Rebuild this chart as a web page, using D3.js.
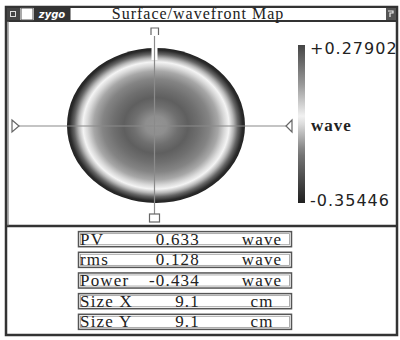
<!DOCTYPE html>
<html>
<head>
<meta charset="utf-8">
<script src="https://cdn.jsdelivr.net/npm/d3@7/dist/d3.min.js"></script>
<style>
  html, body { margin: 0; padding: 0; background: #fff; }
  svg { display: block; }
</style>
</head>
<body>
<div id="chart"></div>
<script>
// wavefront data
const titleText = 'Surface/wavefront Map';
const waveMax = 0.27902;
const waveMin = -0.35446;
const waveUnit = 'wave';
const sizeX = 9.1;
const sizeY = 9.1;

// radial profile of the map (fraction of pupil radius -> wave)
const profileR = [0, 0.12, 0.25, 0.36, 0.48, 0.6, 0.7, 0.77, 0.82, 0.87, 0.92, 0.97, 1.0];
const profileWave = [0.13, 0.14, 0.2, 0.23, 0.2, 0.16, 0.1, 0.03, -0.01, -0.08, -0.2, -0.33, -0.35];

// stats table
const statLabels = ['PV', 'rms', 'Power', 'Size X', 'Size Y'];
const statValues = ['0.633', '0.128', '-0.434', '9.1', '9.1'];
const statUnits = ['wave', 'wave', 'wave', 'cm', 'cm'];

const W = 400, H = 340;
const svg = d3.select('#chart').append('svg')
  .attr('width', W)
  .attr('height', H);

const defs = svg.append('defs');

// grey colour map: light near zero, dark at both ends
const color = d3.scaleLinear()
  .domain([waveMin, -0.15, -0.01, 0.12, waveMax])
  .range(['#202020', '#7a7a7a', '#f4f4f4', '#999999', '#454545']);

// window frame
svg.append('rect')
  .attr('x', 6).attr('y', 7)
  .attr('width', 391).attr('height', 328)
  .attr('fill', '#fff')
  .attr('stroke', '#333').attr('stroke-width', 2.5);

// title bar
const bar = svg.append('g');
bar.append('rect')
  .attr('x', 6).attr('y', 7).attr('width', 391).attr('height', 14)
  .attr('fill', '#fff').attr('stroke', '#333').attr('stroke-width', 2);
bar.append('rect')
  .attr('x', 7).attr('y', 8).attr('width', 13).attr('height', 12)
  .attr('fill', '#444');
bar.append('rect')
  .attr('x', 10.5).attr('y', 11.5).attr('width', 5).attr('height', 5)
  .attr('fill', 'none').attr('stroke', '#ddd').attr('stroke-width', 1);
bar.append('rect')
  .attr('x', 21).attr('y', 8).attr('width', 12).attr('height', 12)
  .attr('fill', '#fff').attr('stroke', '#555');
bar.append('rect')
  .attr('x', 34).attr('y', 8).attr('width', 36).attr('height', 12)
  .attr('fill', '#333');
bar.append('text')
  .attr('x', 52).attr('y', 18)
  .attr('text-anchor', 'middle')
  .attr('font-family', 'DejaVu Sans, sans-serif')
  .attr('font-size', 10).attr('font-weight', 'bold').attr('font-style', 'italic')
  .attr('fill', '#fff')
  .text('zygo');
bar.append('line')
  .attr('x1', 70).attr('x2', 70).attr('y1', 8).attr('y2', 20)
  .attr('stroke', '#333');
bar.append('rect')
  .attr('x', 386).attr('y', 8).attr('width', 10).attr('height', 12)
  .attr('fill', '#555');
bar.append('path')
  .attr('d', 'M388,11 L393,11 L393,13 L390,13 L390,17')
  .attr('fill', 'none').attr('stroke', '#eee').attr('stroke-width', 1.2);
bar.append('text')
  .attr('x', 198).attr('y', 19)
  .attr('text-anchor', 'middle')
  .attr('font-family', 'Liberation Serif, serif')
  .attr('font-size', 16).attr('letter-spacing', 1)
  .attr('fill', '#222')
  .text(titleText);

// plot panel / stats panel divider
svg.append('line')
  .attr('x1', 6).attr('x2', 397).attr('y1', 226).attr('y2', 226)
  .attr('stroke', '#333').attr('stroke-width', 2.5);
svg.append('line')
  .attr('x1', 8).attr('x2', 8).attr('y1', 21).attr('y2', 226)
  .attr('stroke', '#666').attr('stroke-width', 1);

// pupil scales (cm)
const x = d3.scaleLinear().domain([-sizeX / 2, sizeX / 2]).range([67, 245]);
const y = d3.scaleLinear().domain([-sizeY / 2, sizeY / 2]).range([203, 48]);

const grad = defs.append('radialGradient')
  .attr('id', 'pupil')
  .attr('cx', 0.5).attr('cy', 0.5).attr('r', 0.5);
grad.selectAll('stop')
  .data(profileR)
  .join('stop')
  .attr('offset', d => d)
  .attr('stop-color', (d, i) => color(profileWave[i]));

svg.append('ellipse')
  .attr('cx', x(0)).attr('cy', y(0))
  .attr('rx', x(sizeX / 2) - x(0))
  .attr('ry', y(0) - y(sizeY / 2))
  .attr('fill', 'url(#pupil)');

// crosshair
const cx = x(0) - 1.5, cy = y(0) + 0.5;
svg.append('line')
  .attr('x1', cx).attr('x2', cx).attr('y1', 37).attr('y2', 60)
  .attr('stroke', '#fff').attr('stroke-width', 6);
svg.append('line')
  .attr('x1', 18).attr('x2', 288).attr('y1', cy).attr('y2', cy)
  .attr('stroke', '#8a8a8a').attr('stroke-width', 1.2);
svg.append('line')
  .attr('x1', cx).attr('x2', cx).attr('y1', 36).attr('y2', 214)
  .attr('stroke', '#8a8a8a').attr('stroke-width', 1.2);

const marker = svg.append('g')
  .attr('fill', '#fff').attr('stroke', '#666').attr('stroke-width', 1.2);
marker.append('path')
  .attr('d', `M${12},${cy - 6} L${19},${cy} L${12},${cy + 6} Z`);
marker.append('path')
  .attr('d', `M${292},${cy - 6} L${286},${cy} L${292},${cy + 6} Z`);
marker.append('path')
  .attr('d', `M${cx - 3.5},${35} L${cx - 3.5},${28} L${cx + 4},${28} L${cx + 4},${35}`)
  .attr('fill', 'none');
marker.append('rect')
  .attr('x', cx - 5).attr('y', 214).attr('width', 10).attr('height', 8);

// colour bar
const yBar = d3.scaleLinear().domain([waveMin, waveMax]).range([203, 45]);
const barTicks = d3.range(0, 21).map(i => waveMin + (waveMax - waveMin) * i / 20);
const barGrad = defs.append('linearGradient')
  .attr('id', 'bar')
  .attr('x1', 0).attr('x2', 0).attr('y1', 1).attr('y2', 0);
barGrad.selectAll('stop')
  .data(barTicks)
  .join('stop')
  .attr('offset', d => (d - waveMin) / (waveMax - waveMin))
  .attr('stop-color', d => color(d));

svg.append('rect')
  .attr('x', 298).attr('y', yBar(waveMax))
  .attr('width', 7).attr('height', yBar(waveMin) - yBar(waveMax))
  .attr('fill', 'url(#bar)');

const barText = svg.append('g')
  .attr('font-family', 'DejaVu Sans, sans-serif')
  .attr('font-size', 16).attr('letter-spacing', 1)
  .attr('fill', '#222');
barText.append('text')
  .attr('x', 310).attr('y', yBar(waveMax) + 9)
  .text('+' + waveMax.toFixed(5));
barText.append('text')
  .attr('x', 310).attr('y', yBar(waveMin) + 3)
  .text(waveMin.toFixed(5));
svg.append('text')
  .attr('x', 311).attr('y', 131)
  .attr('font-family', 'Liberation Serif, serif')
  .attr('font-size', 17).attr('font-weight', 'bold').attr('letter-spacing', 1)
  .attr('fill', '#222')
  .text(waveUnit);

// stats table
const rowY = d3.scaleBand()
  .domain(statLabels)
  .range([231, 330])
  .paddingInner(0.27)
  .paddingOuter(0.03);

const rows = svg.append('g').selectAll('g')
  .data(statLabels)
  .join('g')
  .attr('transform', d => `translate(0, ${rowY(d)})`);

rows.append('rect')
  .attr('x', 78.5).attr('y', 0)
  .attr('width', 213).attr('height', rowY.bandwidth())
  .attr('fill', '#fff').attr('stroke', '#555').attr('stroke-width', 1.5);
rows.append('rect')
  .attr('x', 80.5).attr('y', 2)
  .attr('width', 209).attr('height', rowY.bandwidth() - 4)
  .attr('fill', 'none').attr('stroke', '#999').attr('stroke-width', 0.8);

const rowText = rows.append('g')
  .attr('font-family', 'Liberation Serif, serif')
  .attr('font-size', 17).attr('letter-spacing', 1.2)
  .attr('fill', '#222');
rowText.append('text')
  .attr('x', 80).attr('y', rowY.bandwidth() - 2)
  .text(d => d);
rowText.append('text')
  .attr('x', 200).attr('y', rowY.bandwidth() - 2)
  .attr('text-anchor', 'end')
  .text((d, i) => statValues[i]);
rowText.append('text')
  .attr('x', 262).attr('y', rowY.bandwidth() - 2)
  .attr('text-anchor', 'middle')
  .text((d, i) => statUnits[i]);
</script>
</body>
</html>
